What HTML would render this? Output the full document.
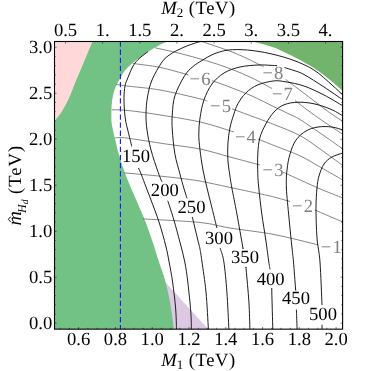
<!DOCTYPE html>
<html><head><meta charset="utf-8"><title>plot</title><style>html,body{margin:0;padding:0;background:#fff}svg{display:block}text{font-family:"Liberation Serif",serif;text-rendering:geometricPrecision}</style></head><body>
<svg width="371" height="371" viewBox="0 0 371 371">
<rect width="371" height="371" fill="#fff"/>
<defs><clipPath id="c"><rect x="54.50" y="41.50" width="288.10" height="287.65"/></clipPath></defs>
<g clip-path="url(#c)">
<path d="M158.6 274.7 L208.3 329.15 L158.6 329.15 Z" fill="#ddc9e3"/>
<path d="M54.50 41.50 L167.00 41.50 C165.17 42.40 159.50 45.00 156.00 46.90 C152.50 48.80 149.33 50.67 146.00 52.90 C142.67 55.13 139.33 57.57 136.00 60.30 C132.67 63.03 128.67 66.27 126.00 69.30 C123.33 72.33 121.92 75.05 120.00 78.50 C118.08 81.95 115.83 86.08 114.50 90.00 C113.17 93.92 112.52 98.00 112.00 102.00 C111.48 106.00 111.43 110.33 111.40 114.00 C111.37 117.67 111.23 120.00 111.80 124.00 C112.37 128.00 113.63 133.00 114.80 138.00 C115.97 143.00 117.30 148.67 118.80 154.00 C120.30 159.33 121.77 164.33 123.80 170.00 C125.83 175.67 127.63 180.00 131.00 188.00 C134.37 196.00 140.50 209.33 144.00 218.00 C147.50 226.67 149.50 232.67 152.00 240.00 C154.50 247.33 156.83 255.33 159.00 262.00 C161.17 268.67 163.17 273.33 165.00 280.00 C166.83 286.67 168.50 293.80 170.00 302.00 C171.50 310.20 173.33 324.67 174.00 329.20 L54.50 329.15 Z" fill="#72c285"/>
<path d="M54.50 41.50 L92.50 41.50 C91.00 45.08 86.53 55.75 83.50 63.00 C80.47 70.25 76.73 79.08 74.30 85.00 C71.87 90.92 71.03 94.00 68.90 98.50 C66.77 103.00 63.90 108.22 61.50 112.00 C59.10 115.78 55.67 119.67 54.50 121.20 Z" fill="#ffd9d9"/>
<path d="M253.00 41.50 C254.83 42.00 260.50 43.48 264.00 44.50 C267.50 45.52 269.00 45.52 274.00 47.60 C279.00 49.68 287.33 53.60 294.00 57.00 C300.67 60.40 308.00 64.17 314.00 68.00 C320.00 71.83 325.20 76.17 330.00 80.00 C334.80 83.83 340.67 89.17 342.80 91.00 L342.60 41.50 Z" fill="#73b46c"/>
<g fill="none" stroke="#666" stroke-width="0.8">
<path d="M202.00 41.60 C206.67 43.20 222.50 48.38 230.00 51.20 C237.50 54.02 242.03 56.22 247.00 58.50 C251.97 60.78 257.05 63.52 259.80 64.90 C262.55 66.28 262.88 66.48 263.50 66.80"/>
<path d="M285.70 79.50 C289.47 82.33 301.38 91.27 308.30 96.50 C315.22 101.73 321.45 106.73 327.20 110.90 C332.95 115.07 340.20 119.73 342.80 121.50"/>
<path d="M155.00 47.80 C159.00 48.70 170.62 51.10 179.00 53.20 C187.38 55.30 196.80 57.83 205.30 60.40 C213.80 62.97 222.22 65.67 230.00 68.60 C237.78 71.53 245.00 74.68 252.00 78.00 C259.00 81.32 268.67 86.75 272.00 88.50"/>
<path d="M295.00 100.60 C298.78 103.42 309.73 111.88 317.70 117.50 C325.67 123.12 338.62 131.50 342.80 134.30"/>
<path d="M133.00 63.50 C137.50 64.15 150.78 65.50 160.00 67.40 C169.22 69.30 183.58 73.65 188.30 74.90"/>
<path d="M211.90 80.60 C214.92 81.70 223.32 84.63 230.00 87.20 C236.68 89.77 244.67 92.73 252.00 96.00 C259.33 99.27 267.83 103.80 274.00 106.80 C280.17 109.80 284.67 111.88 289.00 114.00 C293.33 116.12 294.83 116.33 300.00 119.50 C305.17 122.67 312.87 128.08 320.00 133.00 C327.13 137.92 339.00 146.33 342.80 149.00"/>
<path d="M116.00 84.30 C117.67 84.57 118.67 84.95 126.00 85.90 C133.33 86.85 147.67 87.85 160.00 90.00 C172.33 92.15 192.13 96.92 200.00 98.80 C207.87 100.68 206.00 100.88 207.20 101.30"/>
<path d="M231.90 108.80 C234.23 109.67 238.88 111.38 245.90 114.00 C252.92 116.62 264.98 120.90 274.00 124.50 C283.02 128.10 292.33 131.52 300.00 135.60 C307.67 139.68 312.87 144.02 320.00 149.00 C327.13 153.98 339.00 162.75 342.80 165.50"/>
<path d="M111.80 109.80 C114.17 109.88 118.97 109.60 126.00 110.30 C133.03 111.00 141.67 112.05 154.00 114.00 C166.33 115.95 186.68 119.00 200.00 122.00 C213.32 125.00 228.25 130.33 233.90 132.00"/>
<path d="M257.80 139.00 C260.50 140.08 266.97 142.70 274.00 145.50 C281.03 148.30 292.33 152.22 300.00 155.80 C307.67 159.38 312.87 162.97 320.00 167.00 C327.13 171.03 339.00 177.83 342.80 180.00"/>
<path d="M114.80 138.00 C116.67 138.00 117.47 137.00 126.00 138.00 C134.53 139.00 153.67 142.17 166.00 144.00 C178.33 145.83 189.33 146.83 200.00 149.00 C210.67 151.17 220.00 154.33 230.00 157.00 C240.00 159.67 255.00 163.67 260.00 165.00"/>
<path d="M283.00 172.30 C283.55 172.52 280.47 170.98 286.30 173.60 C292.13 176.22 308.58 183.93 318.00 188.00 C327.42 192.07 338.67 196.33 342.80 198.00"/>
<path d="M124.00 172.80 C128.33 173.20 143.50 174.60 150.00 175.20 C156.50 175.80 158.00 175.88 163.00 176.40 C168.00 176.92 173.83 177.52 180.00 178.30 C186.17 179.08 191.83 179.62 200.00 181.10 C208.17 182.58 219.00 185.08 229.00 187.20 C239.00 189.32 252.50 192.17 260.00 193.80 C267.50 195.43 269.00 195.72 274.00 197.00 C279.00 198.28 287.33 200.75 290.00 201.50"/>
<path d="M314.90 210.00 C319.55 212.00 338.15 220.00 342.80 222.00"/>
<path d="M143.00 218.90 C152.50 219.50 185.50 220.98 200.00 222.50 C214.50 224.02 217.67 226.00 230.00 228.00 C242.33 230.00 259.33 231.70 274.00 234.50 C288.67 237.30 310.67 243.08 318.00 244.80"/>
</g>
<g fill="none" stroke="#111" stroke-width="0.95">
<path d="M176.50 329.20 C176.35 325.67 176.25 315.87 175.60 308.00 C174.95 300.13 173.68 289.67 172.60 282.00 C171.52 274.33 170.23 268.00 169.10 262.00 C167.97 256.00 167.48 252.67 165.80 246.00 C164.12 239.33 161.47 229.67 159.00 222.00 C156.53 214.33 153.17 205.83 151.00 200.00 C148.83 194.17 147.58 191.17 146.00 187.00 C144.42 182.83 142.75 178.17 141.50 175.00 C140.25 171.83 139.00 169.17 138.50 168.00"/>
<path d="M131.80 146.50 C131.17 143.92 129.05 135.42 128.00 131.00 C126.95 126.58 126.12 123.83 125.50 120.00 C124.88 116.17 124.55 111.83 124.30 108.00 C124.05 104.17 123.88 100.67 124.00 97.00 C124.12 93.33 124.50 88.83 125.00 86.00 C125.50 83.17 125.83 83.00 127.00 80.00 C128.17 77.00 130.50 71.03 132.00 68.00 C133.50 64.97 134.67 63.50 136.00 61.80 C137.33 60.10 138.67 59.00 140.00 57.80 C141.33 56.60 142.67 55.63 144.00 54.60 C145.33 53.57 147.33 52.10 148.00 51.60"/>
<path d="M191.40 329.20 C191.30 326.33 191.40 319.87 190.80 312.00 C190.20 304.13 188.80 290.33 187.80 282.00 C186.80 273.67 186.12 268.67 184.80 262.00 C183.48 255.33 181.72 249.00 179.90 242.00 C178.08 235.00 175.80 226.50 173.90 220.00 C172.00 213.50 169.53 206.20 168.50 203.00 C167.47 199.80 167.83 201.17 167.70 200.80"/>
<path d="M161.90 181.80 C161.25 180.13 159.82 177.10 158.00 171.80 C156.18 166.50 152.83 156.97 151.00 150.00 C149.17 143.03 147.83 136.00 147.00 130.00 C146.17 124.00 145.92 119.50 146.00 114.00 C146.08 108.50 146.50 102.67 147.50 97.00 C148.50 91.33 149.58 85.83 152.00 80.00 C154.42 74.17 159.00 66.25 162.00 62.00 C165.00 57.75 167.33 56.50 170.00 54.50 C172.67 52.50 175.00 51.50 178.00 50.00 C181.00 48.50 184.33 46.90 188.00 45.50 C191.67 44.10 198.00 42.25 200.00 41.60"/>
<path d="M208.40 329.20 C208.00 323.00 207.07 303.20 206.00 292.00 C204.93 280.80 203.00 269.17 202.00 262.00 C201.00 254.83 200.70 252.67 200.00 249.00 C199.30 245.33 199.00 245.00 197.80 240.00 C196.60 235.00 193.68 222.67 192.80 219.00 C191.92 215.33 192.55 218.17 192.50 218.00"/>
<path d="M187.00 198.30 C186.47 196.58 184.98 192.08 183.80 188.00 C182.62 183.92 181.38 179.48 179.90 173.80 C178.42 168.12 176.17 161.20 174.90 153.90 C173.63 146.60 172.73 136.65 172.30 130.00 C171.87 123.35 171.87 119.70 172.30 114.00 C172.73 108.30 172.87 102.15 174.90 95.80 C176.93 89.45 181.48 80.78 184.50 75.90 C187.52 71.02 190.08 69.07 193.00 66.50 C195.92 63.93 198.67 62.53 202.00 60.50 C205.33 58.47 209.00 55.98 213.00 54.30 C217.00 52.62 221.50 51.18 226.00 50.40 C230.50 49.62 235.00 49.50 240.00 49.60 C245.00 49.70 250.33 50.18 256.00 51.00 C261.67 51.82 267.67 52.92 274.00 54.50 C280.33 56.08 287.33 57.92 294.00 60.50 C300.67 63.08 307.67 65.92 314.00 70.00 C320.33 74.08 327.20 80.83 332.00 85.00 C336.80 89.17 341.00 93.33 342.80 95.00"/>
<path d="M228.90 329.20 C228.57 323.00 227.73 303.20 226.90 292.00 C226.07 280.80 224.95 269.08 223.90 262.00 C222.85 254.92 221.20 251.78 220.60 249.50 C220.00 247.22 220.35 248.50 220.30 248.30"/>
<path d="M216.80 227.50 C216.73 227.25 217.20 229.25 216.40 226.00 C215.60 222.75 213.57 214.33 212.00 208.00 C210.43 201.67 208.50 194.33 207.00 188.00 C205.50 181.67 204.17 176.33 203.00 170.00 C201.83 163.67 200.70 156.00 200.00 150.00 C199.30 144.00 198.80 139.33 198.80 134.00 C198.80 128.67 199.13 123.70 200.00 118.00 C200.87 112.30 202.00 105.47 204.00 99.80 C206.00 94.13 208.67 88.47 212.00 84.00 C215.33 79.53 219.33 75.83 224.00 73.00 C228.67 70.17 234.33 68.33 240.00 67.00 C245.67 65.67 253.00 65.28 258.00 65.00 C263.00 64.72 266.80 65.18 270.00 65.30 C273.20 65.42 276.00 65.63 277.20 65.70"/>
<path d="M284.60 67.60 C286.17 68.08 290.77 69.35 294.00 70.50 C297.23 71.65 299.00 71.75 304.00 74.50 C309.00 77.25 317.53 82.78 324.00 87.00 C330.47 91.22 339.67 97.67 342.80 99.80"/>
<path d="M249.90 329.20 C249.73 324.67 249.52 311.87 248.90 302.00 C248.28 292.13 246.68 275.67 246.20 270.00 C245.72 264.33 246.03 268.33 246.00 268.00"/>
<path d="M242.90 247.60 C242.85 247.33 243.60 251.60 242.60 246.00 C241.60 240.40 238.68 223.67 236.90 214.00 C235.12 204.33 233.07 194.37 231.90 188.00 C230.73 181.63 230.57 180.47 229.90 175.80 C229.23 171.13 228.23 165.30 227.90 160.00 C227.57 154.70 227.57 149.33 227.90 144.00 C228.23 138.67 228.90 133.00 229.90 128.00 C230.90 123.00 232.57 118.03 233.90 114.00 C235.23 109.97 235.90 107.32 237.90 103.80 C239.90 100.28 242.58 96.05 245.90 92.90 C249.22 89.75 253.12 86.90 257.80 84.90 C262.48 82.90 269.30 81.40 274.00 80.90 C278.70 80.40 281.00 81.05 286.00 81.90 C291.00 82.75 297.67 83.82 304.00 86.00 C310.33 88.18 317.53 91.70 324.00 95.00 C330.47 98.30 339.67 104.00 342.80 105.80"/>
<path d="M272.80 329.20 C272.63 323.00 271.98 298.62 271.80 292.00 C271.62 285.38 271.72 289.92 271.70 289.50"/>
<path d="M269.90 269.30 C269.88 269.08 269.98 269.22 269.80 268.00 C269.62 266.78 269.47 266.67 268.80 262.00 C268.13 257.33 266.97 248.00 265.80 240.00 C264.63 232.00 262.97 222.67 261.80 214.00 C260.63 205.33 259.47 194.70 258.80 188.00 C258.13 181.30 257.97 179.47 257.80 173.80 C257.63 168.13 257.47 159.97 257.80 154.00 C258.13 148.03 258.47 143.00 259.80 138.00 C261.13 133.00 263.43 128.33 265.80 124.00 C268.17 119.67 270.97 115.20 274.00 112.00 C277.03 108.80 280.00 106.43 284.00 104.80 C288.00 103.17 293.00 102.37 298.00 102.20 C303.00 102.03 308.70 102.70 314.00 103.80 C319.30 104.90 325.50 107.10 329.80 108.80 C334.10 110.50 337.63 112.80 339.80 114.00 C341.97 115.20 342.30 115.67 342.80 116.00"/>
<path d="M297.10 329.20 C297.00 326.33 296.62 315.28 296.50 312.00 C296.38 308.72 296.42 309.92 296.40 309.50"/>
<path d="M295.60 289.30 C295.58 289.08 295.85 292.55 295.50 288.00 C295.15 283.45 294.08 268.67 293.50 262.00 C292.92 255.33 292.75 255.33 292.00 248.00 C291.25 240.67 289.93 228.00 289.00 218.00 C288.07 208.00 286.73 196.00 286.40 188.00 C286.07 180.00 286.40 175.67 287.00 170.00 C287.60 164.33 288.50 159.00 290.00 154.00 C291.50 149.00 293.33 143.83 296.00 140.00 C298.67 136.17 302.33 133.17 306.00 131.00 C309.67 128.83 313.67 127.67 318.00 127.00 C322.33 126.33 327.87 126.50 332.00 127.00 C336.13 127.50 341.00 129.50 342.80 130.00"/>
<path d="M322.00 329.20 C322.00 328.45 322.00 325.45 322.00 324.70"/>
<path d="M322.00 305.00 C321.67 297.83 320.83 273.17 320.00 262.00 C319.17 250.83 317.67 247.00 317.00 238.00 C316.33 229.00 316.00 216.33 316.00 208.00 C316.00 199.67 316.50 193.33 317.00 188.00 C317.50 182.67 317.83 180.00 319.00 176.00 C320.17 172.00 321.83 167.17 324.00 164.00 C326.17 160.83 328.87 158.83 332.00 157.00 C335.13 155.17 341.00 153.67 342.80 153.00"/>
</g>
<line x1="120.4" y1="41.50" x2="120.4" y2="329.15" stroke="#1515ee" stroke-width="1.1" stroke-dasharray="5.3 2.8" stroke-dashoffset="0"/>
</g>
<g stroke="#000" stroke-width="0.9" fill="none">
<rect x="54.50" y="41.50" width="288.10" height="287.65" stroke-width="1.1"/>
<path d="M60.31 329.15 v-1.40 M69.51 329.15 v-1.40 M78.70 329.15 v-2.10 M87.89 329.15 v-1.40 M97.09 329.15 v-1.40 M106.28 329.15 v-1.40 M115.47 329.15 v-2.10 M124.67 329.15 v-1.40 M133.86 329.15 v-1.40 M143.05 329.15 v-1.40 M152.24 329.15 v-2.10 M161.44 329.15 v-1.40 M170.63 329.15 v-1.40 M179.82 329.15 v-1.40 M189.02 329.15 v-2.10 M198.21 329.15 v-1.40 M207.40 329.15 v-1.40 M216.60 329.15 v-1.40 M225.79 329.15 v-2.10 M234.98 329.15 v-1.40 M244.17 329.15 v-1.40 M253.37 329.15 v-1.40 M262.56 329.15 v-2.10 M271.75 329.15 v-1.40 M280.95 329.15 v-1.40 M290.14 329.15 v-1.40 M299.33 329.15 v-2.10 M308.53 329.15 v-1.40 M317.72 329.15 v-1.40 M326.91 329.15 v-1.40 M336.10 329.15 v-2.10 M54.50 323.20 h2.10 M342.60 323.20 h-2.10 M54.50 314.00 h1.40 M342.60 314.00 h-1.40 M54.50 304.81 h1.40 M342.60 304.81 h-1.40 M54.50 295.61 h1.40 M342.60 295.61 h-1.40 M54.50 286.41 h1.40 M342.60 286.41 h-1.40 M54.50 277.21 h2.10 M342.60 277.21 h-2.10 M54.50 268.02 h1.40 M342.60 268.02 h-1.40 M54.50 258.82 h1.40 M342.60 258.82 h-1.40 M54.50 249.62 h1.40 M342.60 249.62 h-1.40 M54.50 240.43 h1.40 M342.60 240.43 h-1.40 M54.50 231.23 h2.10 M342.60 231.23 h-2.10 M54.50 222.03 h1.40 M342.60 222.03 h-1.40 M54.50 212.84 h1.40 M342.60 212.84 h-1.40 M54.50 203.64 h1.40 M342.60 203.64 h-1.40 M54.50 194.44 h1.40 M342.60 194.44 h-1.40 M54.50 185.24 h2.10 M342.60 185.24 h-2.10 M54.50 176.05 h1.40 M342.60 176.05 h-1.40 M54.50 166.85 h1.40 M342.60 166.85 h-1.40 M54.50 157.65 h1.40 M342.60 157.65 h-1.40 M54.50 148.46 h1.40 M342.60 148.46 h-1.40 M54.50 139.26 h2.10 M342.60 139.26 h-2.10 M54.50 130.06 h1.40 M342.60 130.06 h-1.40 M54.50 120.87 h1.40 M342.60 120.87 h-1.40 M54.50 111.67 h1.40 M342.60 111.67 h-1.40 M54.50 102.47 h1.40 M342.60 102.47 h-1.40 M54.50 93.27 h2.10 M342.60 93.27 h-2.10 M54.50 84.08 h1.40 M342.60 84.08 h-1.40 M54.50 74.88 h1.40 M342.60 74.88 h-1.40 M54.50 65.68 h1.40 M342.60 65.68 h-1.40 M54.50 56.49 h1.40 M342.60 56.49 h-1.40 M54.50 47.29 h2.10 M342.60 47.29 h-2.10 M65.50 41.50 v2.10 M102.65 41.50 v2.10 M139.80 41.50 v2.10 M176.95 41.50 v2.10 M214.10 41.50 v2.10 M251.25 41.50 v2.10 M288.40 41.50 v2.10 M325.55 41.50 v2.10" stroke-width="0.5"/>
</g>
<g font-size="18.6px" fill="#000" style="filter:grayscale(1)">
<text x="78.70" y="344.5" text-anchor="middle">0.6</text>
<text x="115.47" y="344.5" text-anchor="middle">0.8</text>
<text x="152.24" y="344.5" text-anchor="middle">1.0</text>
<text x="189.02" y="344.5" text-anchor="middle">1.2</text>
<text x="225.79" y="344.5" text-anchor="middle">1.4</text>
<text x="262.56" y="344.5" text-anchor="middle">1.6</text>
<text x="299.33" y="344.5" text-anchor="middle">1.8</text>
<text x="336.10" y="344.5" text-anchor="middle">2.0</text>
<text x="65.50" y="35.5" text-anchor="middle">0.5</text>
<text x="102.65" y="35.5" text-anchor="middle">1.</text>
<text x="139.80" y="35.5" text-anchor="middle">1.5</text>
<text x="176.95" y="35.5" text-anchor="middle">2.</text>
<text x="214.10" y="35.5" text-anchor="middle">2.5</text>
<text x="251.25" y="35.5" text-anchor="middle">3.</text>
<text x="288.40" y="35.5" text-anchor="middle">3.5</text>
<text x="325.55" y="35.5" text-anchor="middle">4.</text>
<text x="52.3" y="328.90" text-anchor="end">0.0</text>
<text x="52.3" y="282.91" text-anchor="end">0.5</text>
<text x="52.3" y="236.93" text-anchor="end">1.0</text>
<text x="52.3" y="190.94" text-anchor="end">1.5</text>
<text x="52.3" y="144.96" text-anchor="end">2.0</text>
<text x="52.3" y="98.97" text-anchor="end">2.5</text>
<text x="52.3" y="52.99" text-anchor="end">3.0</text>
<text x="161.3" y="14.2"><tspan font-style="italic">M</tspan><tspan font-size="13px" dy="3">2</tspan><tspan dy="-3" dx="0.3" letter-spacing="0.55"> (TeV)</tspan></text>
<text x="161.3" y="366.4"><tspan font-style="italic">M</tspan><tspan font-size="13px" dy="3">1</tspan><tspan dy="-3" dx="0.3" letter-spacing="0.55"> (TeV)</tspan></text>
<g transform="translate(21,225.5) rotate(-90)"><text x="0" y="0" font-style="italic" font-size="20px">m</text><path d="M3.5 -10.3 L6.2 -12.7 L8.9 -10.3" fill="none" stroke="#000" stroke-width="0.9"/><text x="12.6" y="4.6" font-style="italic" font-size="12px">H</text><text x="21.2" y="6.6" font-style="italic" font-size="9.5px">d</text><text x="31.6" y="0" letter-spacing="1">(TeV)</text></g>
<text x="136.00" y="161.70" text-anchor="middle" font-size="18.6px">150</text>
<text x="164.80" y="196.20" text-anchor="middle" font-size="18.6px">200</text>
<text x="191.50" y="213.20" text-anchor="middle" font-size="18.6px">250</text>
<text x="219.00" y="243.50" text-anchor="middle" font-size="18.6px">300</text>
<text x="245.00" y="262.70" text-anchor="middle" font-size="18.6px">350</text>
<text x="270.70" y="284.50" text-anchor="middle" font-size="18.6px">400</text>
<text x="296.00" y="304.20" text-anchor="middle" font-size="18.6px">450</text>
<text x="323.00" y="319.60" text-anchor="middle" font-size="18.6px">500</text>
<text x="273.50" y="78.70" text-anchor="middle" font-size="18.6px" fill="#808080" letter-spacing="1.2">−8</text>
<text x="283.00" y="100.20" text-anchor="middle" font-size="18.6px" fill="#808080" letter-spacing="1.2">−7</text>
<text x="200.60" y="85.00" text-anchor="middle" font-size="18.6px" fill="#808080" letter-spacing="1.2">−6</text>
<text x="221.20" y="111.70" text-anchor="middle" font-size="18.6px" fill="#808080" letter-spacing="1.2">−5</text>
<text x="246.00" y="143.20" text-anchor="middle" font-size="18.6px" fill="#808080" letter-spacing="1.2">−4</text>
<text x="273.60" y="175.80" text-anchor="middle" font-size="18.6px" fill="#808080" letter-spacing="1.2">−3</text>
<text x="303.10" y="211.50" text-anchor="middle" font-size="18.6px" fill="#808080" letter-spacing="1.2">−2</text>
<text x="331.80" y="252.60" text-anchor="middle" font-size="18.6px" fill="#808080" letter-spacing="1.2">−1</text>
</g>
</svg>
</body></html>
